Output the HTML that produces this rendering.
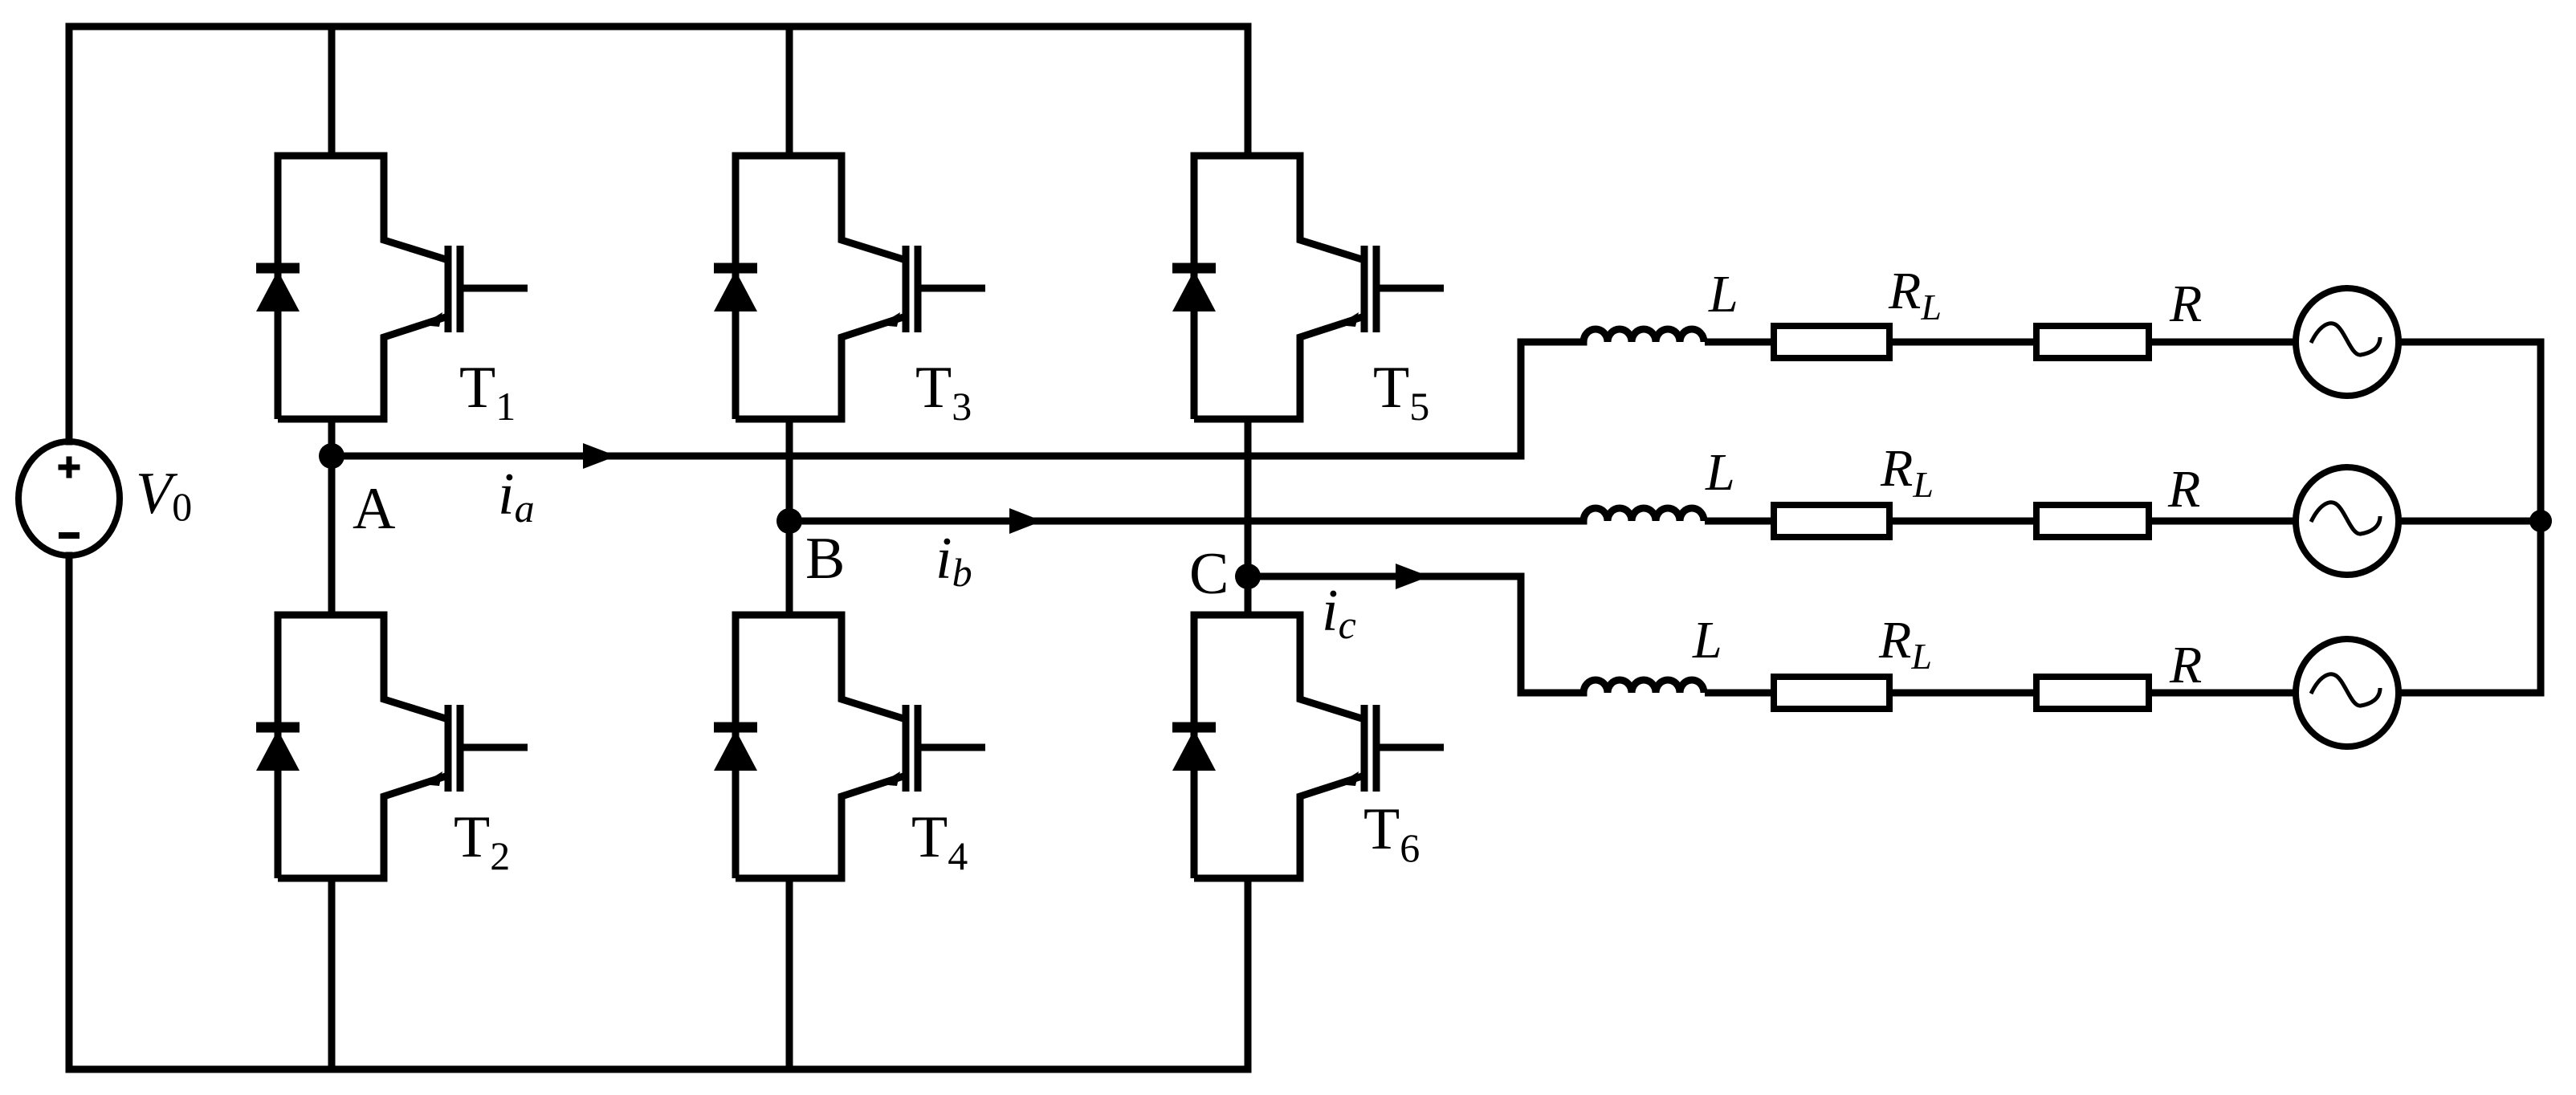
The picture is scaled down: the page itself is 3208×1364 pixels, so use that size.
<!DOCTYPE html>
<html><head><meta charset="utf-8"><style>
html,body{margin:0;padding:0;background:#fff;}
svg{display:block;}
text{font-family:"Liberation Serif","Times New Roman",Times,serif;fill:#000;}
</style></head><body>
<svg width="3208" height="1364" viewBox="0 0 3208 1364" xmlns="http://www.w3.org/2000/svg">
<defs>
<g id="sw" fill="none" stroke="#000" stroke-width="9" stroke-linejoin="miter">
  <path d="M-67,328 L-67,0 L65,0 L65,105 L145,130"/>
  <path d="M-67,328 L65,328 L65,226 L145,200"/>
  <line x1="-94" y1="140" x2="-40" y2="140" stroke-width="13"/>
  <polygon points="-67,143 -94,194 -40,194" fill="#000" stroke="none"/>
  <line x1="145" y1="112" x2="145" y2="220"/>
  <line x1="160" y1="112" x2="160" y2="220"/>
  <line x1="160" y1="165" x2="244" y2="165"/>
  <polygon points="112,211 138,195 134,213" fill="#000" stroke="none"/>
</g>
<g id="row" fill="none" stroke="#000" stroke-width="9">
  <path d="M2123,0 L2209,0"/>
  <path d="M2353,0 L2536,0"/>
  <path d="M2676,0 L2860,0"/>
  <path d="M1972,0 a15,16 0 0 1 30,0 a15,16 0 0 1 30,0 a15,16 0 0 1 30,0 a15,16 0 0 1 30,0 a15,16 0 0 1 30,0"/>
  <rect x="2209" y="-20" width="144" height="40" stroke-width="8"/>
  <rect x="2536" y="-20" width="140" height="40" stroke-width="8"/>
  <ellipse cx="2923" cy="0" rx="64" ry="67" stroke-width="8"/>
  <path d="M2878,1 C2888,-20 2900,-26 2908,-22 C2920,-16 2928,18 2940,16 C2952,14 2964,8 2964,-6" stroke-width="5"/>
  <path d="M2986,0 L3164,0"/>
</g>
</defs>

<g fill="none" stroke="#000" stroke-width="9" stroke-linecap="square">
  <path d="M86,550 L86,33 L1554,33"/>
  <path d="M86,692 L86,1332 L1554,1332"/>
  <line x1="413" y1="33" x2="413" y2="194"/>
  <line x1="413" y1="522" x2="413" y2="766"/>
  <line x1="413" y1="1094" x2="413" y2="1332"/>
  <line x1="983" y1="33" x2="983" y2="194"/>
  <line x1="983" y1="522" x2="983" y2="766"/>
  <line x1="983" y1="1094" x2="983" y2="1332"/>
  <line x1="1554" y1="33" x2="1554" y2="194"/>
  <line x1="1554" y1="522" x2="1554" y2="766"/>
  <line x1="1554" y1="1094" x2="1554" y2="1332"/>
  <path d="M413,568 L1894,568 L1894,426 L1972,426"/>
  <path d="M983,649 L1972,649"/>
  <path d="M1554,718 L1894,718 L1894,863 L1972,863"/>
  <line x1="3164" y1="426" x2="3164" y2="863"/>
  <ellipse cx="86" cy="621" rx="63" ry="71" stroke-width="8"/>
  <line x1="86" y1="572" x2="86" y2="592" stroke-width="7"/>
  <line x1="76" y1="582" x2="96" y2="582" stroke-width="7"/>
  <line x1="77" y1="667" x2="95" y2="667" stroke-width="8"/>
</g>

<use href="#sw" x="413" y="194"/>
<use href="#sw" x="413" y="766"/>
<use href="#sw" x="983" y="194"/>
<use href="#sw" x="983" y="766"/>
<use href="#sw" x="1554" y="194"/>
<use href="#sw" x="1554" y="766"/>

<use href="#row" x="0" y="426"/>
<use href="#row" x="0" y="649"/>
<use href="#row" x="0" y="863"/>

<g fill="#000">
  <circle cx="413" cy="568" r="16"/>
  <circle cx="983" cy="649" r="16"/>
  <circle cx="1554" cy="718" r="16"/>
  <circle cx="3164" cy="649" r="14"/>
  <polygon points="768,568 726,552 726,584"/>
  <polygon points="1298,649 1257,633 1257,665"/>
  <polygon points="1780,718 1738,702 1738,734"/>
</g>

<g font-size="74" font-family="Liberation Serif, Times New Roman, serif">
  <text x="572" y="507">T<tspan font-size="50" dy="16">1</tspan></text>
  <text x="1140" y="507">T<tspan font-size="50" dy="16">3</tspan></text>
  <text x="1710" y="507">T<tspan font-size="50" dy="16">5</tspan></text>
  <text x="565" y="1067">T<tspan font-size="50" dy="16">2</tspan></text>
  <text x="1135" y="1067">T<tspan font-size="50" dy="16">4</tspan></text>
  <text x="1698" y="1057">T<tspan font-size="50" dy="16">6</tspan></text>
  <text x="439" y="658">A</text>
  <text x="1003" y="720">B</text>
  <text x="1481" y="739">C</text>
  <text x="169" y="639" font-style="italic">V<tspan font-style="normal" font-size="50" dy="9">0</tspan></text>
  <text x="620" y="640" font-style="italic">i<tspan font-size="50" dy="10">a</tspan></text>
  <text x="1165" y="720" font-style="italic">i<tspan font-size="50" dy="10">b</tspan></text>
  <text x="1646" y="785" font-style="italic">i<tspan font-size="50" dy="10">c</tspan></text>
</g>
<g font-size="66" font-style="italic" font-family="Liberation Serif, Times New Roman, serif">
  <text x="2128" y="388">L</text>
  <text x="2352" y="384">R<tspan font-size="46" dy="14">L</tspan></text>
  <text x="2702" y="400">R</text>
  <text x="2124" y="610">L</text>
  <text x="2342" y="605">R<tspan font-size="46" dy="14">L</tspan></text>
  <text x="2700" y="631">R</text>
  <text x="2108" y="819">L</text>
  <text x="2340" y="819">R<tspan font-size="46" dy="14">L</tspan></text>
  <text x="2702" y="850">R</text>
</g>
</svg>
</body></html>
